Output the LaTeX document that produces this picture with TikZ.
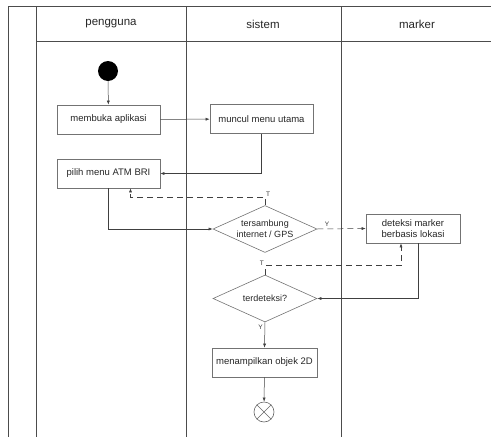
\documentclass[tikz,border=0pt]{standalone}
\usepackage{fontspec}
\setmainfont{Liberation Sans}
\usepackage{tikz}
\usetikzlibrary{arrows.meta, shapes.geometric, positioning}

\begin{document}
\begin{tikzpicture}[
  x=1pt, y=-1pt,
  font=\fontsize{9.5}{11}\selectfont,
  lane/.style={draw=black!70, line width=0.8pt},
  act/.style={draw=black!55, line width=0.6pt, minimum width=103pt, minimum height=29pt, inner sep=1pt, text=black!85},
  dec/.style={diamond, draw=black!55, line width=0.6pt, minimum width=104pt, minimum height=47pt, inner sep=0pt, aspect=2.2, align=center, text=black!85, font=\fontsize{9}{10.5}\selectfont},
  flow/.style={draw=black!75, line width=0.5pt, -{Latex[length=4pt,width=3pt]}},
  alt/.style={flow, dashed, dash pattern=on 6pt off 4pt},
  guard/.style={font=\fontsize{6.5}{7}\selectfont, inner sep=1pt, text=black!80}
]
  \path[use as bounding box] (0,0) rectangle (491,437);
  \draw[lane] (8,437) -- (8,6) -- (491,6);
  \draw[lane] (36,41) -- (491,41);
  \foreach \lx in {36,186,341} \draw[lane] (\lx,6) -- (\lx,437);
  \node[font=\fontsize{11.5}{13}\selectfont, text=black!85] (hUser) at (111,24) {pengguna};
  \node[font=\fontsize{11.5}{13}\selectfont, text=black!85] (hSys) at (263,24) {sistem};
  \node[font=\fontsize{11.5}{13}\selectfont, text=black!85] (hMark) at (417,24) {marker};

  \node[circle, fill=black, minimum size=20pt, inner sep=0pt] (start) at (108,71) {};
  \node[act] (buka) at (108.5,119.5) {membuka aplikasi};
  \node[act] (menu) at (261.5,119) {muncul menu utama};
  \node[act] (pilih) at (108.5,173.5) {pilih menu ATM BRI};
  \node[dec] (cekNet) at (265,229) {tersambung\\internet / GPS};
  \node[act, minimum width=94pt, align=center, font=\fontsize{9.5}{10.5}\selectfont] (deteksi) at (413,228.5) {deteksi marker\\berbasis lokasi};
  \node[dec] (cekMark) at (265,298.5) {terdeteksi?};
  \node[act, minimum width=105pt] (tampil) at (264.5,362.5) {menampilkan objek 2D};
  \node[circle, draw=black!60, line width=0.6pt, minimum size=20pt, inner sep=0pt] (finish) at (264,412) {};
  \draw[black!60, line width=0.6pt] (finish.north east) -- (finish.south west) (finish.north west) -- (finish.south east);

  \draw[flow] (start) -- (buka);
  \draw[flow] (buka) -- (menu);
  \draw[flow] (menu.south) |- (pilih.east);
  \draw[flow] (pilih.south) |- (cekNet.west);
  \draw[alt] (cekNet.north) -- ++(0,-8) coordinate (tNet) -| ([xshift=22pt]pilih.south);
  \node[guard, anchor=south west] at (tNet) {T};
  \draw[alt] (cekNet.east) -- node[guard, pos=0.2, above=1pt] {Y} (deteksi.west);
  \draw[flow] ([xshift=5pt]deteksi.south) |- (cekMark.east);
  \draw[alt] (cekMark.north) -- ++(0,-9) coordinate (tMark) -| ([xshift=-12pt]deteksi.south);
  \node[guard, anchor=east] at ([yshift=2pt]tMark) {T};
  \draw[flow] (cekMark.south) -- node[guard, pos=0.2, left=1pt] {Y} (tampil.north);
  \draw[flow] (tampil) -- (finish);
\end{tikzpicture}
\end{document}
